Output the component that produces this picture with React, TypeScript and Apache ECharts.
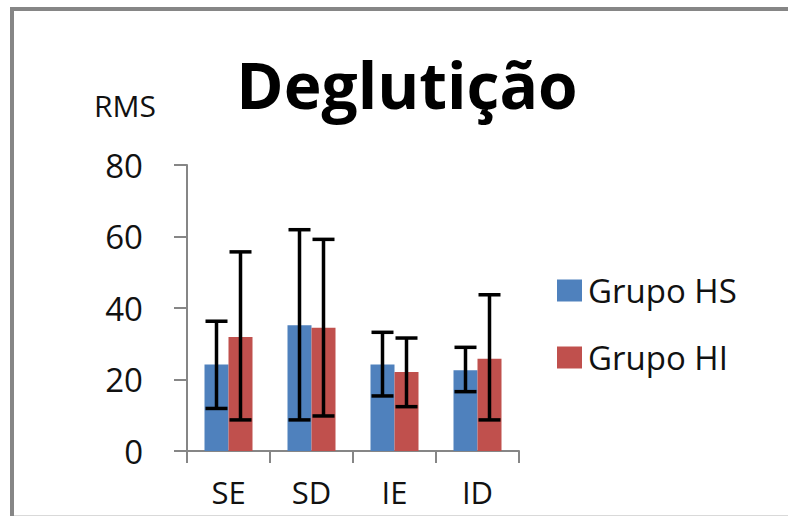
import React, { useEffect, useRef } from "react";
import * as echarts from "echarts";

const categories = ["SE", "SD", "IE", "ID"];
const seriesNames = ["Grupo HS", "Grupo HI"];
const hsMean = [24.2, 35.2, 24.2, 22.6];
const hiMean = [31.9, 34.5, 22.1, 25.8];
const hsLow = [11.9, 8.7, 15.4, 16.6];
const hsHigh = [36.3, 61.9, 33.2, 29.0];
const hiLow = [8.7, 9.8, 12.4, 8.7];
const hiHigh = [55.7, 59.2, 31.6, 43.7];
const yTicks = { min: 0, max: 80, interval: 20 };

const FONT = "'Open Sans', 'Noto Sans', sans-serif";
const BAR_W = 24;
const CAP_W = 22;

function errorSeries(low: number[], high: number[], offset: number) {
  return {
    type: "custom",
    z: 10,
    silent: true,
    data: categories.map((_, i) => [i, low[i], high[i]]),
    encode: { x: 0, y: [1, 2] },
    renderItem: (params: any, api: any) => {
      const idx = api.value(0);
      const lo = api.coord([idx, api.value(1)]);
      const hi = api.coord([idx, api.value(2)]);
      const x = lo[0] + offset;
      const style = { stroke: "#000", lineWidth: 3.5 };
      return {
        type: "group",
        children: [
          { type: "line", shape: { x1: x, y1: hi[1], x2: x, y2: lo[1] }, style },
          { type: "line", shape: { x1: x - CAP_W / 2, y1: hi[1], x2: x + CAP_W / 2, y2: hi[1] }, style },
          { type: "line", shape: { x1: x - CAP_W / 2, y1: lo[1], x2: x + CAP_W / 2, y2: lo[1] }, style },
        ],
      };
    },
  };
}

export default function App() {
  const ref = useRef<HTMLDivElement>(null);
  useEffect(() => {
    if (!ref.current) return;
    const chart = echarts.init(ref.current, undefined, { renderer: "svg" });
    const axisGray = "#868686";
    chart.setOption({
      animation: false,
      backgroundColor: "#fff",
      textStyle: { fontFamily: FONT },
      grid: { left: 187, right: 269, top: 165, bottom: 65, containLabel: false },
      legend: {
        orient: "vertical",
        left: 552,
        top: 269,
        itemWidth: 25,
        itemHeight: 22,
        itemGap: 34,
        icon: "rect",
        data: seriesNames,
        textStyle: { fontFamily: FONT, fontSize: 33, color: "#111", padding: [0, 0, 0, 1] },
      },
      xAxis: {
        type: "category",
        data: categories,
        boundaryGap: true,
        axisLine: { show: true, lineStyle: { color: axisGray, width: 2 } },
        axisTick: { show: true, length: 12, lineStyle: { color: axisGray, width: 2 } },
        axisLabel: { fontFamily: FONT, fontSize: 31, color: "#111", margin: 25 },
        splitLine: { show: false },
      },
      yAxis: {
        type: "value",
        min: yTicks.min,
        max: yTicks.max,
        interval: yTicks.interval,
        axisLine: { show: true, lineStyle: { color: axisGray, width: 2 } },
        axisTick: { show: true, length: 13, lineStyle: { color: axisGray, width: 2 } },
        axisLabel: { fontFamily: FONT, fontSize: 33, color: "#111", margin: 44 },
        splitLine: { show: false },
      },
      graphic: [
        {
          type: "rect",
          shape: { x: 12, y: 9, width: 820, height: 540 },
          style: { fill: "none", stroke: "#868686", lineWidth: 4 },
          silent: true,
          z: 100,
        },
        {
          type: "line",
          shape: { x1: 14, y1: 515.5, x2: 788, y2: 515.5 },
          style: { stroke: "#d9d9d9", lineWidth: 1 },
          silent: true,
        },
        {
          type: "text",
          x: 407,
          y: 84,
          style: {
            text: "Deglutição",
            fontFamily: FONT,
            fontWeight: "bold",
            fontSize: 64,
            fill: "#000",
            textAlign: "center",
            textVerticalAlign: "middle",
          },
        },
        {
          type: "text",
          x: 94,
          y: 105,
          style: {
            text: "RMS",
            fontFamily: FONT,
            fontSize: 30,
            fill: "#111",
            textAlign: "left",
            textVerticalAlign: "middle",
          },
        },
      ],
      series: [
        {
          name: seriesNames[0],
          type: "bar",
          data: hsMean,
          barWidth: BAR_W,
          barGap: "0%",
          itemStyle: { color: "#4F81BD" },
        },
        {
          name: seriesNames[1],
          type: "bar",
          data: hiMean,
          barWidth: BAR_W,
          barGap: "0%",
          itemStyle: { color: "#C0504D" },
        },
        errorSeries(hsLow, hsHigh, -BAR_W / 2),
        errorSeries(hiLow, hiHigh, BAR_W / 2),
      ],
    });
    return () => chart.dispose();
  }, []);
  return (
    <div
      ref={ref}
      style={{ position: "fixed", left: 0, top: 0, width: 788, height: 516 }}
    />
  );
}
